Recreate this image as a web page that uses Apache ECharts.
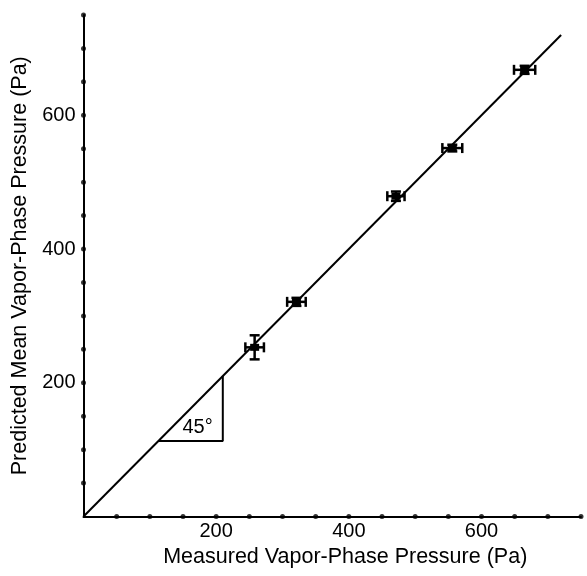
<!DOCTYPE html>
<html>
<head>
<meta charset="utf-8">
<script src="https://cdn.jsdelivr.net/npm/echarts@6/dist/echarts.min.js"></script>
<style>
  html, body { margin: 0; padding: 0; background: #fff; }
  #chart { width: 587px; height: 576px; }
</style>
</head>
<body>
<div id="chart"></div>
<script>
// Measured vs predicted mean vapor-phase pressure (Pa) with error bars
const measured      = [258, 321, 471, 556, 665];
const predicted     = [253, 321, 479, 551, 668];
const measuredErr   = [14, 14, 13, 15, 16];
const predictedErr  = [18, 6, 7, 5, 6];

// axis tick dots and labelled ticks
const tickValues  = [50, 100, 150, 200, 250, 300, 350, 400, 450, 500, 550, 600, 650, 700, 750];
const tickLabels  = [200, 400, 600];

// 1:1 reference line and the 45° angle marker
const identityLine = [[0, 0], [720, 720]];
const angleMarker  = [[113, 113], [210, 113], [210, 210]];
const angleText    = { x: 172, y: 133, text: '45°' };

const FONT = '"Liberation Sans", Arial, Helvetica, sans-serif';

const chart = echarts.init(document.getElementById('chart'), null, { renderer: 'canvas' });

const axisCommon = {
  type: 'value',
  min: 0,
  max: 750,
  interval: 50,
  splitLine: { show: false },
  axisTick: { show: false },
  axisLine: { show: true, onZero: false, lineStyle: { color: '#000', width: 2 } },
  nameLocation: 'middle',
  nameTextStyle: { color: '#000', fontSize: 21.5, fontFamily: FONT },
  axisLabel: {
    color: '#000',
    fontSize: 20,
    fontFamily: FONT,
    formatter: v => (tickLabels.indexOf(v) >= 0 ? String(v) : '')
  }
};

const errData = measured.map((m, i) => [m, predicted[i], measuredErr[i], predictedErr[i]]);

chart.setOption({
  animation: false,
  backgroundColor: '#fff',
  grid: { left: 83.5, right: 6, top: 15, bottom: 59.5, containLabel: false },
  xAxis: Object.assign({}, axisCommon, {
    name: 'Measured Vapor-Phase Pressure (Pa)',
    nameGap: 28,
    nameTextStyle: Object.assign({}, axisCommon.nameTextStyle, { padding: [0, 0, 0, 26] }),
    axisLabel: Object.assign({}, axisCommon.axisLabel, { margin: 5 })
  }),
  yAxis: Object.assign({}, axisCommon, {
    name: 'Predicted Mean Vapor-Phase Pressure (Pa)',
    nameGap: 50,
    axisLabel: Object.assign({}, axisCommon.axisLabel, { margin: 8 })
  }),
  series: [
    {
      name: 'identity',
      type: 'line',
      data: identityLine,
      symbol: 'none',
      lineStyle: { color: '#000', width: 2 },
      clip: false,
      z: 3
    },
    {
      name: 'angle',
      type: 'line',
      data: angleMarker,
      symbol: 'none',
      lineStyle: { color: '#000', width: 2 },
      z: 3
    },
    {
      name: 'angleLabel',
      type: 'custom',
      data: [[angleText.x, angleText.y]],
      z: 4,
      renderItem: function (params, api) {
        const p = api.coord([api.value(0), api.value(1)]);
        return {
          type: 'text',
          x: p[0],
          y: p[1],
          style: {
            text: angleText.text,
            fill: '#000',
            font: '20px ' + FONT,
            align: 'center',
            verticalAlign: 'middle'
          }
        };
      }
    },
    {
      name: 'xTicks',
      type: 'scatter',
      data: tickValues.map(v => [v, 0]),
      symbol: 'circle',
      symbolSize: 5,
      itemStyle: { color: '#000' },
      clip: false,
      z: 5
    },
    {
      name: 'yTicks',
      type: 'scatter',
      data: tickValues.map(v => [0, v]),
      symbol: 'circle',
      symbolSize: 5,
      itemStyle: { color: '#000' },
      clip: false,
      z: 5
    },
    {
      name: 'points',
      type: 'custom',
      data: errData,
      z: 6,
      renderItem: function (params, api) {
        const x = api.value(0), y = api.value(1), ex = api.value(2), ey = api.value(3);
        const c = api.coord([x, y]);
        const l = api.coord([x - ex, y]);
        const r = api.coord([x + ex, y]);
        const t = api.coord([x, y + ey]);
        const b = api.coord([x, y - ey]);
        const cap = 5;
        const st = { stroke: '#000', lineWidth: 2.5 };
        const seg = (x1, y1, x2, y2) => ({ type: 'line', shape: { x1, y1, x2, y2 }, style: st });
        return {
          type: 'group',
          children: [
            seg(l[0], l[1], r[0], r[1]),
            seg(l[0], l[1] - cap, l[0], l[1] + cap),
            seg(r[0], r[1] - cap, r[0], r[1] + cap),
            seg(t[0], t[1], b[0], b[1]),
            seg(t[0] - cap, t[1], t[0] + cap, t[1]),
            seg(b[0] - cap, b[1], b[0] + cap, b[1]),
            { type: 'rect', shape: { x: c[0] - 4.5, y: c[1] - 3.5, width: 9, height: 7 }, style: { fill: '#000' } }
          ]
        };
      }
    }
  ]
});
</script>
</body>
</html>
